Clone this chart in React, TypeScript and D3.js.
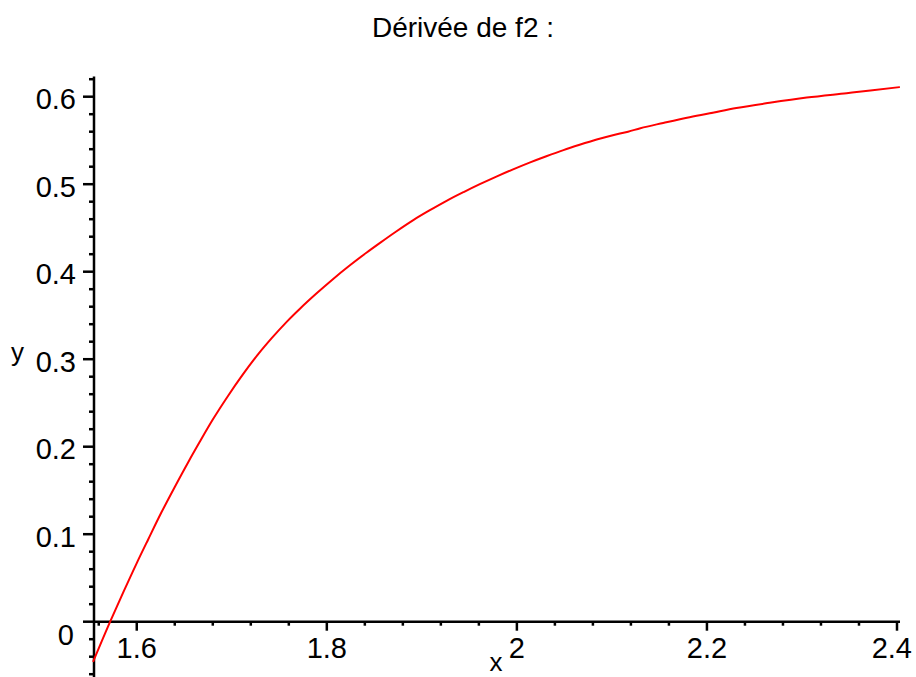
import React from "react";
import * as d3 from "d3";

// Derivative of f2, sampled along x
const xValues = [
  1.554, 1.572, 1.586, 1.6, 1.612, 1.626, 1.64, 1.654, 1.666, 1.68, 1.696, 1.71,
  1.728, 1.742, 1.758, 1.772, 1.789, 1.807, 1.824, 1.842, 1.856, 1.873, 1.891,
  1.908, 1.926, 1.944, 1.961, 1.979, 1.996, 2.014, 2.031, 2.049, 2.066, 2.084,
  2.101, 2.117, 2.13, 2.154, 2.179, 2.203, 2.231, 2.266, 2.305, 2.347, 2.372, 2.403,
];
const yValues = [
  -0.046, 0.0, 0.034, 0.067, 0.094, 0.125, 0.154, 0.182, 0.205, 0.231, 0.258,
  0.28, 0.306, 0.324, 0.343, 0.358, 0.375, 0.392, 0.407, 0.422, 0.433, 0.446,
  0.459, 0.47, 0.481, 0.491, 0.5, 0.509, 0.517, 0.525, 0.532, 0.539, 0.545,
  0.551, 0.556, 0.56, 0.564, 0.57, 0.576, 0.581, 0.587, 0.593, 0.599, 0.604,
  0.607, 0.611,
];

const xTickLabels = [1.6, 1.8, 2, 2.2, 2.4];
const yTickLabels = [0, 0.1, 0.2, 0.3, 0.4, 0.5, 0.6];

const titleText = "Dérivée de f2 :";
const xLabel = "x";
const yLabel = "y";

const W = 916;
const H = 677;
const FONT = "'Liberation Sans', Arial, sans-serif";

export default function App() {
  const x = d3.scaleLinear().domain([1.555, 2.4]).range([94, 897]);
  const y = d3.scaleLinear().domain([0, 0.6]).range([621.7, 96.7]);

  const points = xValues.map((v, i) => [v, yValues[i]] as [number, number]);
  const line = d3
    .line<[number, number]>()
    .x((d) => x(d[0]))
    .y((d) => y(d[1]))
    .curve(d3.curveMonotoneX);

  const xMinor = d3.range(0, 22).map((i) => 1.56 + i * 0.04);
  const yMinor = d3.range(0, 35).map((i) => -0.06 + i * 0.02);
  const isMajorX = (v: number) =>
    xTickLabels.some((t) => Math.abs(t - v) < 1e-6);
  const isMajorY = (v: number) =>
    yTickLabels.some((t) => Math.abs(t - v) < 1e-6);

  const y0 = y(0);
  const axisX = x.range()[0];

  return (
    <svg
      width={W}
      height={H}
      style={{ position: "absolute", left: 0, top: 0, background: "#fff" }}
    >
      <rect x={0} y={0} width={W} height={H} fill="#fff" />

      <text
        x={463}
        y={37}
        fontFamily={FONT}
        fontSize={28}
        textAnchor="middle"
        fill="#000"
      >
        {titleText}
      </text>

      {/* axes */}
      <line
        x1={axisX}
        x2={900}
        y1={y0}
        y2={y0}
        stroke="#000"
        strokeWidth={2.5}
      />
      <line
        x1={axisX}
        x2={axisX}
        y1={y(0.623)}
        y2={H}
        stroke="#000"
        strokeWidth={2.5}
      />

      {/* x ticks */}
      {xMinor.map((v, i) => (
        <line
          key={"xt" + i}
          x1={x(v)}
          x2={x(v)}
          y1={y0}
          y2={y0 + (isMajorX(v) ? 9 : 4)}
          stroke="#000"
          strokeWidth={2.5}
        />
      ))}
      {/* y ticks */}
      {yMinor.map((v, i) => (
        <line
          key={"yt" + i}
          x1={axisX - (isMajorY(v) ? 11 : 5)}
          x2={axisX}
          y1={y(v)}
          y2={y(v)}
          stroke="#000"
          strokeWidth={2.5}
        />
      ))}

      {xTickLabels.map((v, i) => {
        const last = i === xTickLabels.length - 1;
        return (
          <text
            key={"xl" + i}
            x={last ? W - 4 : x(v)}
            y={658}
            fontFamily={FONT}
            fontSize={29}
            textAnchor={last ? "end" : "middle"}
            fill="#000"
          >
            {String(v)}
          </text>
        );
      })}
      {yTickLabels.map((v, i) => (
        <text
          key={"yl" + i}
          x={v === 0 ? 74 : 76}
          y={v === 0 ? y(v) + 23 : y(v) + 12.5}
          fontFamily={FONT}
          fontSize={29}
          textAnchor="end"
          fill="#000"
        >
          {String(v)}
        </text>
      ))}

      <text
        x={496}
        y={671}
        fontFamily={FONT}
        fontSize={26}
        textAnchor="middle"
        fill="#000"
      >
        {xLabel}
      </text>
      <text
        x={17.5}
        y={361}
        fontFamily={FONT}
        fontSize={26}
        textAnchor="middle"
        fill="#000"
      >
        {yLabel}
      </text>

      <path
        d={line(points) ?? ""}
        fill="none"
        stroke="#ff0000"
        strokeWidth={2}
      />
    </svg>
  );
}
